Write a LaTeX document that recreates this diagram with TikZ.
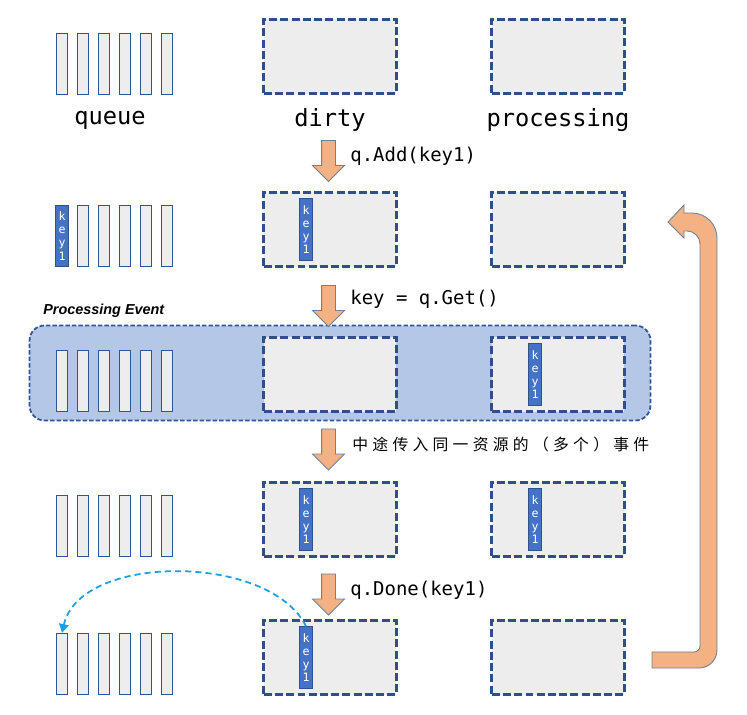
\documentclass[tikz,border=0pt]{standalone}
\usepackage{fontspec}
\usetikzlibrary{shapes.arrows,arrows.meta}
\newfontfamily\monofont{DejaVu Sans Mono}
\newfontfamily\cjkfont[LetterSpace=27]{Noto Sans CJK SC}
\newfontfamily\evfont{Liberation Sans}
\definecolor{slotgray}{HTML}{EDEDED}
\definecolor{edgeblue}{HTML}{2F5597}
\definecolor{boxblue}{HTML}{2E4F8A}
\definecolor{keyblue}{HTML}{4472C4}
\definecolor{keyedge}{HTML}{2F528F}
\definecolor{evfill}{HTML}{B4C7E7}
\definecolor{arroworange}{HTML}{F4B183}
\definecolor{arrowedge}{HTML}{6E7F99}
\definecolor{backcyan}{HTML}{1BA1E2}
% vertical key label
\newcommand\keylabel{\vbox{\baselineskip=7.5pt\hbox{k}\hbox{e}\hbox{y}\hbox{1}}}

\begin{document}
\begin{tikzpicture}[x=0.02cm,y=-0.02cm,
    slot/.style={draw=edgeblue,fill=slotgray,line width=0.7pt,minimum width=0.23cm,minimum height=1.22cm,inner sep=0},
    setbox/.style={draw=boxblue,fill=slotgray,line width=1.5pt,dash pattern=on 4.5pt off 1.9pt,minimum width=2.65cm,minimum height=1.49cm,inner sep=0},
    keybox/.style={draw=keyedge,fill=keyblue,text=white,line width=0.5pt,minimum width=0.25cm,minimum height=1.23cm,inner sep=0,font=\monofont\fontsize{6.6}{7.5}\selectfont},
    lbl/.style={font=\monofont\fontsize{13.5}{16}\selectfont},
    op/.style={anchor=west,inner sep=0,font=\monofont\fontsize{10.8}{13}\selectfont},
    downarr/.style={single arrow,shape border rotate=270,draw=arrowedge,fill=arroworange,line width=0.5pt,minimum height=0.82cm,minimum width=0.62cm,single arrow head extend=0.18cm,inner sep=0.13cm},
    evbox/.style={draw=edgeblue,fill=evfill,line width=1pt,dash pattern=on 2.5pt off 1.2pt,rounded corners=0.3cm,minimum width=12.42cm,minimum height=1.9cm,inner sep=0},
    uarrow/.style={draw=arrowedge,fill=arroworange,line width=0.5pt},
    back/.style={draw=backcyan,line width=1pt,dash pattern=on 3.5pt off 2.3pt,-{Triangle[length=5pt,width=5.5pt]}}
]
\useasboundingbox (0,0) rectangle (747,715);

% processing event band
\node[evbox] (event) at (340,373) {};
\node[anchor=west,inner sep=0,font=\evfont\bfseries\itshape\fontsize{8.2}{10}\selectfont] (evlbl) at (43,311) {Processing Event};

% queues
\foreach \r/\y in {1/64,2/236,3/381,4/526,5/664}
  \foreach \i in {0,...,5}
    \node[slot] (q\r-\i) at ({62+21*\i},\y) {};

% dirty and processing sets
\foreach \r/\y in {1/56.5,2/229.5,3/374.5,4/519.5,5/657.5} {
  \node[setbox] (dirty\r) at (330,\y) {};
  \node[setbox] (proc\r) at (558,\y) {};
}

\node[lbl] (qlbl) at (110,120) {queue};
\node[lbl] (dlbl) at (330,120) {dirty};
\node[lbl] (plbl) at (558,120) {processing};

% keys
\node[keybox] (kq2) at (q2-0) {\keylabel};
\node[keybox] (kd2) at (306,229.5) {\keylabel};
\node[keybox] (kp3) at (535,374.5) {\keylabel};
\node[keybox] (kd4) at (306,519.5) {\keylabel};
\node[keybox] (kp4) at (535,519.5) {\keylabel};
\node[keybox] (kd5) at (306,657.5) {\keylabel};

% steps
\node[downarr] (a1) at (328.5,157.5) {};
\node[downarr] (a2) at (328.5,302.5) {};
\node[downarr] (a3) at (328.5,446) {};
\node[downarr] (a4) at (328.5,591) {};
\node[op] (op1) at (350,156) {q.Add(key1)};
\node[op] (op2) at (350,299) {key = q.Get()};
\node[op,font=\cjkfont\fontsize{9}{11}\selectfont] (op3) at (352,444) {中途传入同一资源的（多个）事件};
\node[op] (op4) at (350,590) {q.Done(key1)};

% back to queue
\draw[back] (kd5.north) .. controls (270,553) and (80,553) .. (q5-0.north);

% loop arrow
\draw[uarrow] (652,652) [rounded corners=0.12cm] -- (700,652) [rounded corners=0.26cm] -- (700,231) [sharp corners] -- (684,231) -- (684,238) -- (668,222) -- (684,205) -- (684,213) [rounded corners=0.5cm] -- (717,213) [rounded corners=0.36cm] -- (717,668) [sharp corners] -- (652,668) -- cycle;

\end{tikzpicture}
\end{document}
